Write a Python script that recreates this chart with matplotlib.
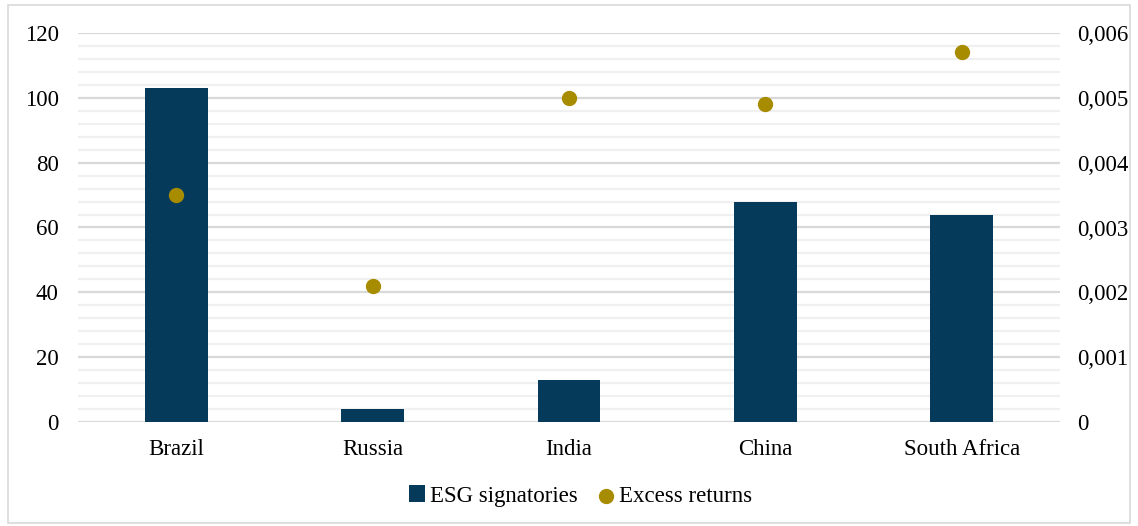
import numpy as np
import matplotlib.pyplot as plt
from matplotlib.patches import Rectangle
from matplotlib.ticker import MultipleLocator, FuncFormatter

plt.rcParams['font.family'] = ['Liberation Serif', 'DejaVu Serif']
plt.rcParams['font.size'] = 16.5

countries = ['Brazil', 'Russia', 'India', 'China', 'South Africa']
esg_signatories = [103, 4, 13, 68, 64]
excess_returns = [0.0035, 0.0021, 0.0050, 0.0049, 0.0057]

bar_color = '#053a5a'
dot_color = '#a88c00'

fig = plt.figure(figsize=(11.38, 5.26), dpi=100)
ax = fig.add_axes([78/1138, 1 - 422/526, (1060-78)/1138, (422-33)/526])
ax2 = ax.twinx()

x = np.arange(len(countries))
ax.bar(x, esg_signatories, width=0.32, color=bar_color, zorder=3,
       label='ESG signatories')
ax2.scatter(x, excess_returns, s=100, color=dot_color, zorder=4,
            label='Excess returns')

ax.set_xlim(-0.5, len(countries) - 0.5)
ax.set_ylim(0, 120)
ax2.set_ylim(0, 0.006)
ax.yaxis.set_major_locator(MultipleLocator(20))
ax.yaxis.set_minor_locator(MultipleLocator(4))
ax2.yaxis.set_major_locator(MultipleLocator(0.001))
ax2.yaxis.set_major_formatter(FuncFormatter(
    lambda v, p: '0' if abs(v) < 1e-12 else ('%.3f' % v).replace('.', ',')))

ax.grid(which='major', axis='y', color='#d9d9d9', linewidth=1.6, zorder=0)
ax.grid(which='minor', axis='y', color='#f0f0f0', linewidth=1.6, zorder=0)
ax.set_axisbelow(True)

for a in (ax, ax2):
    for s in a.spines.values():
        s.set_visible(False)
    a.tick_params(which='both', length=0)
ax.tick_params(axis='y', pad=14)
ax2.tick_params(axis='y', pad=12)
ax.tick_params(axis='x', pad=12)
ax.set_xticks(x)
ax.set_xticklabels(countries)

h1, l1 = ax.get_legend_handles_labels()
h2, l2 = ax2.get_legend_handles_labels()
fig.legend(h1 + h2, l1 + l2, loc='center', bbox_to_anchor=(0.51, 1 - 496/526),
           ncol=2, frameon=False, handlelength=0.7, handletextpad=0.2,
           columnspacing=0.9, markerscale=1.0)

fig.patches.append(Rectangle((8/1138, 1 - 523/526), 1122/1138, 518/526,
                             transform=fig.transFigure, fill=False,
                             edgecolor='#d9d9d9', linewidth=1.2))

fig.savefig('out.png', dpi=100)
